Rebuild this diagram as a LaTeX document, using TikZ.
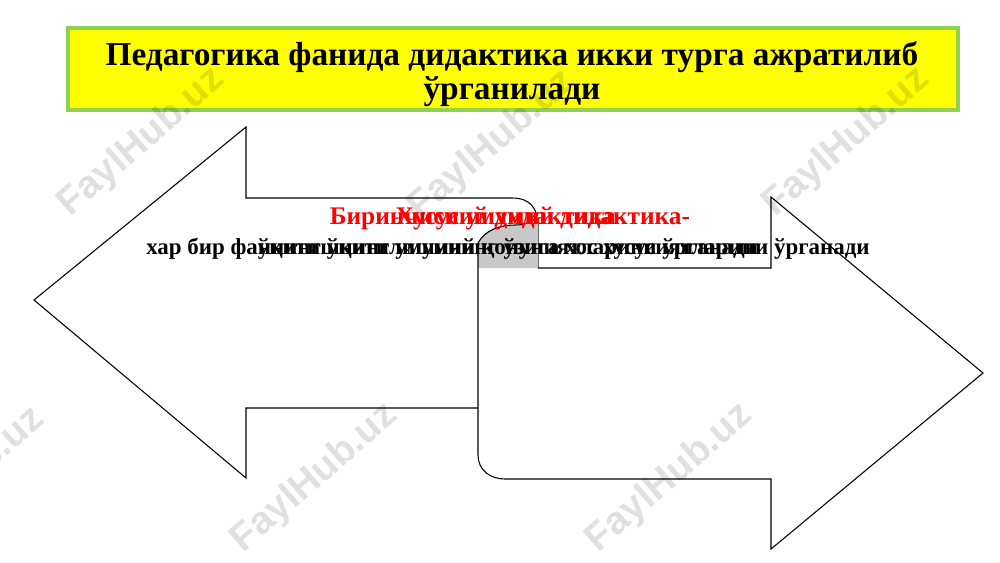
\documentclass[tikz,border=0pt]{standalone}
\usepackage{fontspec}
\setmainfont{Liberation Serif}
\newfontfamily\wmfont{Liberation Sans}
\definecolor{titlegreen}{RGB}{146,208,80}
\definecolor{titleyellow}{RGB}{255,255,0}
\definecolor{foldgray}{RGB}{200,200,200}
\definecolor{textred}{RGB}{255,0,0}
\tikzset{
  outline/.style={draw=black, line width=0.8pt, line join=miter},
  titlebox/.style={draw=titlegreen, fill=titleyellow, line width=3pt},
  titletext/.style={font=\bfseries\fontsize{25}{26}\selectfont, align=center},
  redtext/.style={font=\bfseries\fontsize{19}{22}\selectfont, text=textred, anchor=base, inner sep=0pt},
  blacktext/.style={font=\bfseries\fontsize{17.2}{20}\selectfont, text=black, anchor=base, inner sep=0pt},
  watermark/.style={font=\wmfont\bfseries\fontsize{29}{30}\selectfont, text=black, opacity=0.12, rotate=41, inner sep=0pt}
}
\begin{document}
\begin{tikzpicture}[x=0.75pt,y=-0.75pt]
\useasboundingbox (0,0) rectangle (1000,562);
% title
\draw[titlebox] (68,28) rectangle (958,110);
\node[titletext] (title) at (512,74) {Педагогика фанида дидактика икки турга ажратилиб\\ўрганилади};
% left arrow
\draw[outline] (538,268) -- (538,226) .. controls (538,208) and (530,198) .. (512,198)
  -- (246,198) -- (246,127) -- (34,300) -- (246,478) -- (246,408) -- (478,408);
% fold
\fill[foldgray] (478,268) -- (478,243) .. controls (485,230) and (500,225) .. (515,225)
  .. controls (528,225) and (536,220) .. (538,213) -- (538,268) -- cycle;
\draw[outline] (478,243) .. controls (485,230) and (500,225) .. (515,225)
  .. controls (528,225) and (536,220) .. (538,213);
% right arrow
\draw[outline] (478,243) -- (478,455) .. controls (478,470) and (490,479) .. (505,479)
  -- (771,479) -- (771,549) -- (983,373) -- (771,197) -- (771,268) -- (538,268);
% texts (overlapping, as in the reference)
\node[redtext] (r1) at (510,224) {Биринчиси умумий дидактика-};
\node[redtext] (r2) at (510,224) {Хусусий дидактика-};
\node[blacktext] (b1) at (508,254) {ўқитишнинг умумий қонуниятларини ўрганади};
\node[blacktext] (b2) at (508,254) {хар бир фаннинг ўқитилишининг ўзига хос хусусиятларини ўрганади};
% watermarks
\node[watermark] (w1) at (142,142) {FaylHub.uz};
\node[watermark] (w2) at (492,145) {FaylHub.uz};
\node[watermark] (w3) at (847,142) {FaylHub.uz};
\node[watermark] (w4) at (-38,482) {FaylHub.uz};
\node[watermark] (w5) at (315,478) {FaylHub.uz};
\node[watermark] (w6) at (670,478) {FaylHub.uz};
\end{tikzpicture}
\end{document}
